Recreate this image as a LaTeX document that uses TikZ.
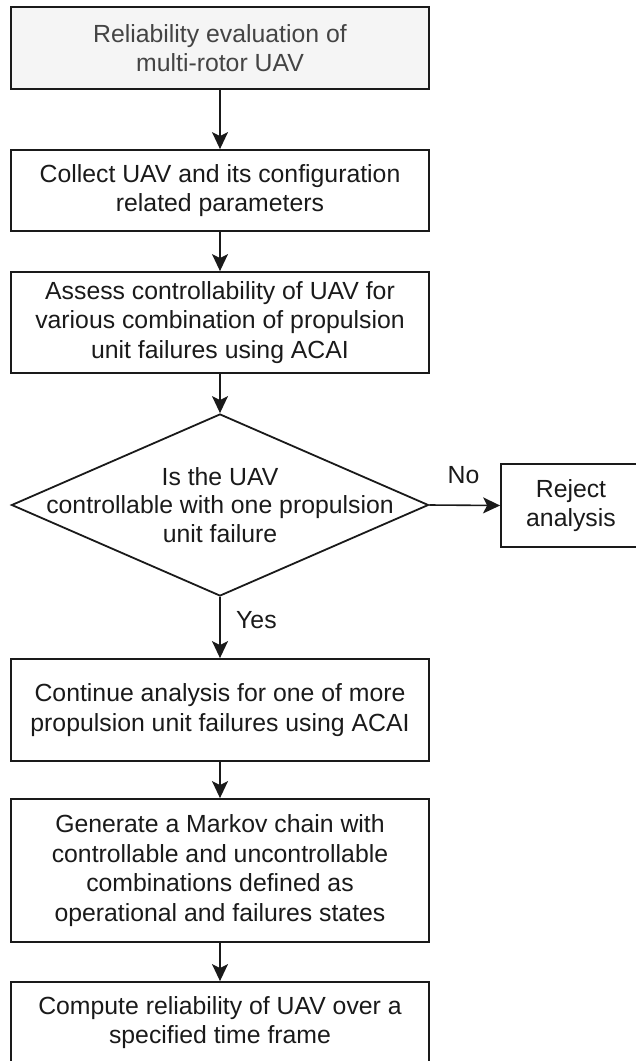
\documentclass[tikz,border=0pt]{standalone}
\usepackage{fontspec}
\setmainfont{Liberation Sans}
\usetikzlibrary{shapes.geometric,arrows.meta}
\definecolor{txtc}{HTML}{1A1A1A}
\definecolor{graytxt}{HTML}{444444}
\definecolor{boxfill}{HTML}{F5F5F5}
\begin{document}
\begin{tikzpicture}[x=1pt,y=-1pt,
  every node/.style={font=\fontsize{24.8pt}{29.4pt}\selectfont, text=txtc},
  procbox/.style={draw=txtc, line width=1.8pt, rectangle, inner sep=0pt, minimum width=418pt, align=center},
  decbox/.style={draw=txtc, line width=1.8pt, diamond, inner sep=0pt, minimum width=417pt, minimum height=182pt},
  conn/.style={draw=txtc, line width=1.6pt, -{Stealth[length=17pt,width=16pt,inset=4pt]}},
  lbl/.style={inner sep=0pt}
]
\useasboundingbox (0,0) rectangle (635,1061);
\node[procbox, fill=boxfill, text=graytxt, minimum height=82pt] (b1) at (220,48) {Reliability evaluation of\\multi-rotor UAV};
\node[procbox, minimum height=81pt] (b2) at (220,190.5) {Collect UAV and its configuration\\related parameters};
\node[procbox, minimum height=101pt] (b3) at (220,322.5) {Assess controllability of UAV for\\various combination of propulsion\\unit failures using ACAI};
\node[decbox] (dia) at (220,505) {};
\node[lbl, align=center, font=\fontsize{24.8pt}{28.5pt}\selectfont] (diat) at (dia.center) {Is the UAV\\controllable with one propulsion\\unit failure};
\node[procbox, minimum width=140pt, minimum height=83pt] (rej) at (571,505.5) {Reject\\analysis};
\node[procbox, minimum height=102pt] (b4) at (220,710) {Continue analysis for one of more\\propulsion unit failures using ACAI};
\node[procbox, minimum height=143pt] (b5) at (220,870.5) {Generate a Markov chain with\\controllable and uncontrollable\\combinations defined as\\operational and failures states};
\node[procbox, minimum height=81pt] (b6) at (220,1022.5) {Compute reliability of UAV over a\\specified time frame};
\draw[conn] (b1.south) -- (b2.north);
\draw[conn] (b2.south) -- (b3.north);
\draw[conn] (b3.south) -- (dia.north);
\draw[conn] (dia.east) -- (rej.west);
\draw[conn] (dia.south) -- (b4.north);
\draw[conn] (b4.south) -- (b5.north);
\draw[conn] (b5.south) -- (b6.north);
\node[lbl] (no) at (463.5,475) {No};
\node[lbl, anchor=west] (yes) at (236,620) {Yes};
\end{tikzpicture}
\end{document}
